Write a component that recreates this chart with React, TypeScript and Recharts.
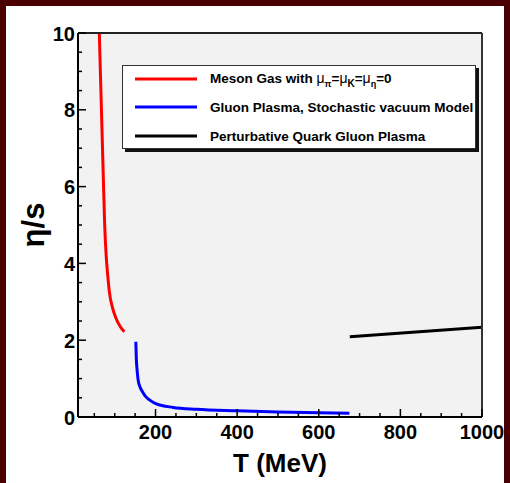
import React from "react";
import {
  LineChart,
  Line,
  CartesianGrid,
  XAxis,
  YAxis,
  Legend,
  Label
} from "recharts";

// eta/s versus temperature for the three regimes
const mesonT = [62.2, 67.1, 72, 75.4, 79.4, 82.8, 86.7, 95, 103.1, 113.7, 123.5];
const mesonEta = [10, 8.13, 6.25, 5.0, 4.14, 3.7, 3.27, 2.83, 2.57, 2.35, 2.22];

const gluonT = [151.7, 153, 155, 157.4, 162, 168, 176, 186, 202, 243, 300, 400, 500, 600, 675];
const gluonEta = [1.96, 1.5, 1.2, 0.96, 0.78, 0.66, 0.53, 0.44, 0.34, 0.25, 0.2, 0.16, 0.13, 0.11, 0.1];

const qgpT = [676, 1000];
const qgpEta = [2.09, 2.34];

const xTicks = [50, 100, 150, 200, 250, 300, 350, 400, 450, 500, 550, 600, 650, 700, 750, 800, 850, 900, 950, 1000];
const xLabels = [200, 400, 600, 800, 1000];
const yTicks = [0, 0.5, 1, 1.5, 2, 2.5, 3, 3.5, 4, 4.5, 5, 5.5, 6, 6.5, 7, 7.5, 8, 8.5, 9, 9.5, 10];
const yLabels = [0, 2, 4, 6, 8, 10];

const toPoints = (t: number[], v: number[]) => t.map((x, i) => ({ t: x, v: v[i] }));

const FONT = "'Liberation Sans', Arial, Helvetica, sans-serif";

function XTick(props: any) {
  const { x, y, payload } = props;
  const major = xLabels.includes(payload.value);
  return (
    <g>
      <line x1={x} x2={x} y1={y} y2={y - (major ? 8 : 4)} stroke="#000" strokeWidth={1.5} />
      {major && (
        <text x={x} y={y + 22} textAnchor="middle" fontSize={20} fontWeight="bold" fill="#000" fontFamily={FONT}>
          {payload.value}
        </text>
      )}
    </g>
  );
}

function YTick(props: any) {
  const { x, y, payload } = props;
  const major = yLabels.includes(payload.value);
  return (
    <g>
      <line x1={x} x2={x + (major ? 8 : 4)} y1={y} y2={y} stroke="#000" strokeWidth={1.5} />
      {major && (
        <text x={x - 3} y={y + 7.5} textAnchor="end" fontSize={20} fontWeight="bold" fill="#000" fontFamily={FONT}>
          {payload.value}
        </text>
      )}
    </g>
  );
}

const series = [
  { name: "meson", color: "#ff0000" },
  { name: "gluon", color: "#0000ff" },
  { name: "qgp", color: "#000000" }
];

function LegendBox() {
  const rows = [14, 42, 71];
  const txt = { fontSize: 13.5, fontWeight: "bold" as const, fill: "#000", fontFamily: FONT };
  return (
    <div
      style={{
        width: 354,
        height: 84,
        background: "#fff",
        border: "1px solid #333",
        boxShadow: "3px 3px 0 #111",
        boxSizing: "border-box"
      }}
    >
      <svg width={352} height={82} style={{ display: "block" }}>
        {series.map((s, i) => (
          <line key={s.name} x1={12} x2={74} y1={rows[i] - 1} y2={rows[i] - 1} stroke={s.color} strokeWidth={3} />
        ))}
        <text x={87} y={rows[0] + 3} {...txt}>
          Meson Gas with <tspan fontWeight="normal" fontSize={14}>μ</tspan>
          <tspan fontSize={9} dy={4}>π</tspan>
          <tspan dy={-4}>=</tspan>
          <tspan fontWeight="normal" fontSize={14}>μ</tspan>
          <tspan fontSize={10} dy={4}>K</tspan>
          <tspan dy={-4}>=</tspan>
          <tspan fontWeight="normal" fontSize={14}>μ</tspan>
          <tspan fontSize={9} dy={4}>η</tspan>
          <tspan dy={-4}>=0</tspan>
        </text>
        <text x={87} y={rows[1] + 4} {...txt}>
          Gluon Plasma, Stochastic vacuum Model
        </text>
        <text x={87} y={rows[2] + 4} {...txt}>
          Perturbative Quark Gluon Plasma
        </text>
      </svg>
    </div>
  );
}

export default function App() {
  return (
    <div style={{ position: "absolute", left: 0, top: 0, width: 510, height: 483, background: "#4a0000" }}>
      <div style={{ position: "absolute", left: 6, top: 6, width: 498, height: 477, background: "#fff" }} />
      <div style={{ position: "absolute", left: 0, top: 0 }}>
        <LineChart width={510} height={483} margin={{ top: 32, right: 27, bottom: 26, left: 38 }}>
          <CartesianGrid fill="#f2f2f2" horizontal={false} vertical={false} />
          <XAxis
            dataKey="t"
            type="number"
            domain={[10, 1000]}
            allowDataOverflow
            ticks={xTicks}
            interval={0}
            height={40}
            tickSize={0}
            tickMargin={0}
            tick={<XTick />}
            axisLine={{ stroke: "#000", strokeWidth: 2 }}
          >
            <Label
              content={({ viewBox }: any) => (
                <text
                  x={viewBox.x + viewBox.width / 2}
                  y={viewBox.y + 55}
                  textAnchor="middle"
                  fontSize={26}
                  fontWeight="bold"
                  fontFamily={FONT}
                  fill="#000"
                >
                  T (MeV)
                </text>
              )}
            />
          </XAxis>
          <XAxis
            xAxisId="top"
            orientation="top"
            dataKey="t"
            type="number"
            domain={[10, 1000]}
            height={1}
            tick={false}
            tickLine={false}
            axisLine={{ stroke: "#222", strokeWidth: 2 }}
          />
          <YAxis
            type="number"
            domain={[0, 10]}
            allowDataOverflow
            ticks={yTicks}
            interval={0}
            width={40}
            tickSize={0}
            tickMargin={0}
            tick={<YTick />}
            axisLine={{ stroke: "#000", strokeWidth: 2 }}
          >
            <Label
              content={({ viewBox }: any) => {
                const cx = viewBox.x + viewBox.width - 45;
                const cy = viewBox.y + viewBox.height / 2;
                return (
                  <text
                    x={cx}
                    y={cy}
                    transform={`rotate(-90 ${cx} ${cy})`}
                    textAnchor="middle"
                    dominantBaseline="central"
                    fontSize={31}
                    fontWeight="bold"
                    fontFamily={FONT}
                    fill="#000"
                  >
                    η/s
                  </text>
                );
              }}
            />
          </YAxis>
          <YAxis
            yAxisId="right"
            orientation="right"
            type="number"
            domain={[0, 10]}
            width={1}
            tick={false}
            tickLine={false}
            axisLine={{ stroke: "#333", strokeWidth: 2 }}
          />
          <Line data={toPoints(mesonT, mesonEta)} dataKey="v" type="monotone" stroke="#ff0000" strokeWidth={3} dot={false} isAnimationActive={false} />
          <Line data={toPoints(gluonT, gluonEta)} dataKey="v" type="monotone" stroke="#0000ff" strokeWidth={3} dot={false} isAnimationActive={false} />
          <Line data={toPoints(qgpT, qgpEta)} dataKey="v" type="linear" stroke="#000000" strokeWidth={3} dot={false} isAnimationActive={false} />
          <Legend
            layout="horizontal"
            verticalAlign="middle"
            align="center"
            content={() => <LegendBox />}
            wrapperStyle={{ left: 122, top: 65, width: 354, height: 84 }}
          />
        </LineChart>
      </div>
    </div>
  );
}
